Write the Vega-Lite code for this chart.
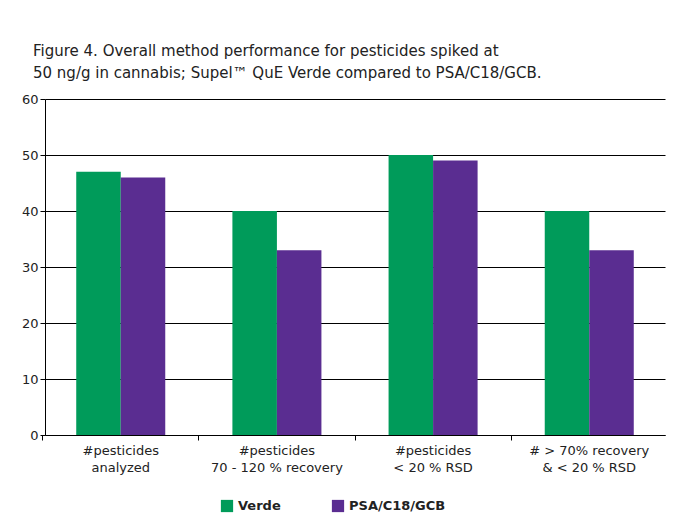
{
"$schema":"https://vega.github.io/schema/vega-lite/v6.json",
"width":620,"height":336,
"autosize":{"type":"none"},
"padding":{"left":45,"top":99,"right":16,"bottom":92},
"background":"white",
"title":{"text":["Figure 4. Overall method performance for pesticides spiked at","50 ng/g in cannabis; Supel™ QuE Verde compared to PSA/C18/GCB."],"anchor":"start","frame":"group","dx":-12,"offset":12,"font":"DejaVu Sans","fontSize":15,"fontWeight":"normal","color":"#222","lineHeight":22},
"data":{"values":[
{"c":"#pesticides|analyzed","s":"Verde","v":47},
{"c":"#pesticides|analyzed","s":"PSA/C18/GCB","v":46},
{"c":"#pesticides|70 - 120 % recovery","s":"Verde","v":40},
{"c":"#pesticides|70 - 120 % recovery","s":"PSA/C18/GCB","v":33},
{"c":"#pesticides|< 20 % RSD","s":"Verde","v":50},
{"c":"#pesticides|< 20 % RSD","s":"PSA/C18/GCB","v":49},
{"c":"# > 70% recovery|& < 20 % RSD","s":"Verde","v":40},
{"c":"# > 70% recovery|& < 20 % RSD","s":"PSA/C18/GCB","v":33}
]},
"mark":{"type":"bar"},
"encoding":{
"x":{"field":"c","type":"nominal","sort":null,"scale":{"paddingInner":0.43,"paddingOuter":0.2},"axis":{"title":null,"labelAngle":0,"labelExpr":"split(datum.label,'|')","labelFont":"DejaVu Sans","labelFontSize":13,"labelColor":"#222","bandPosition":-0.377,"domainColor":"black","tickColor":"black","labelPadding":4,"labelLineHeight":17}},
"xOffset":{"field":"s","type":"nominal","sort":["Verde","PSA/C18/GCB"]},
"y":{"field":"v","type":"quantitative","scale":{"domain":[0,60]},"axis":{"title":null,"tickCount":6,"gridColor":"black","gridOpacity":1,"domainColor":"black","tickColor":"black","labelFont":"DejaVu Sans","labelFontSize":13,"labelColor":"#222"}},
"color":{"field":"s","type":"nominal","sort":["Verde","PSA/C18/GCB"],"scale":{"range":["#009B5A","#5A2D91"]},"legend":{"title":null,"orient":"none","legendX":175,"legendY":400,"direction":"horizontal","symbolType":"square","symbolSize":150,"symbolOpacity":1,"labelFont":"DejaVu Sans","labelFontSize":13,"labelFontWeight":"bold","labelColor":"#222","columnPadding":50}}
},
"config":{"view":{"stroke":null}}
}
